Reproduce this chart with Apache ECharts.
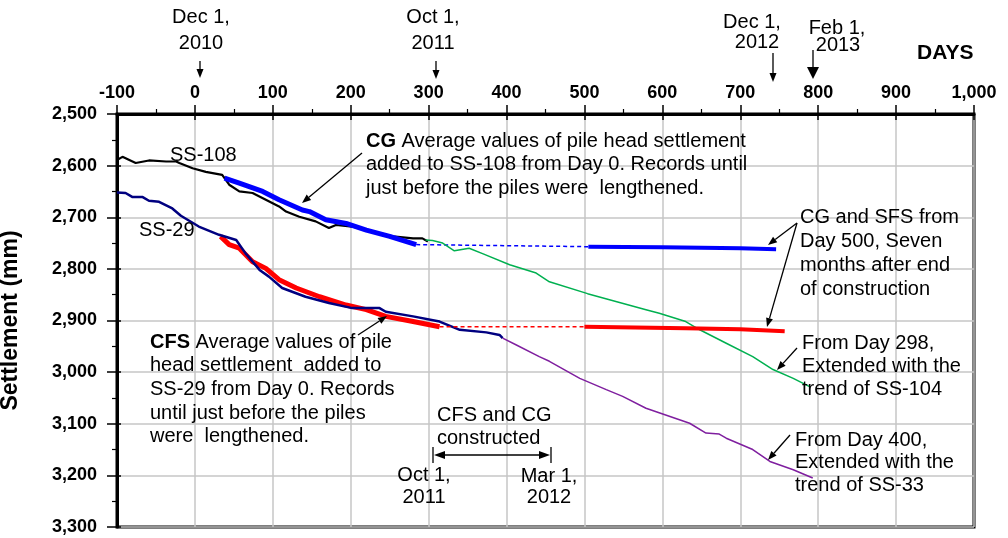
<!DOCTYPE html>
<html>
<head>
<meta charset="utf-8">
<script src="https://cdn.jsdelivr.net/npm/echarts@6/dist/echarts.min.js"></script>
<style>
  html, body { margin: 0; padding: 0; background: #fff; }
  #main { width: 1008px; height: 538px; }
</style>
</head>
<body>
<div id="main"></div>
<script>
// ---- data (days, settlement mm) ----
var ss108Day = [-100, -93, -76, -59, -37, -24, -20, -3, 14, 35, 44, 57, 74, 91, 108, 117, 134, 155, 172, 181, 202, 228, 254, 280, 292, 299];
var ss108Val = [2589, 2583, 2595, 2590, 2592, 2592, 2595, 2605, 2612, 2618, 2637, 2650, 2653, 2666, 2679, 2689, 2699, 2708, 2721, 2715, 2718, 2728, 2737, 2741, 2741, 2747];

var cgDay = [38, 57, 87, 108, 138, 147, 168, 194, 220, 250, 284];
var cgVal = [2624, 2634, 2650, 2666, 2686, 2689, 2705, 2712, 2725, 2737, 2753];
var cgGapDay = [284, 505];
var cgGapVal = [2753, 2757];
var cgLateDay = [505, 600, 700, 746];
var cgLateVal = [2757, 2758, 2760, 2762];

var ss29Day = [-100, -89, -80, -67, -59, -46, -29, -18, 5, 31, 53, 65, 83, 95, 112, 142, 172, 202, 237, 245, 280, 314, 340, 374, 391, 395];
var ss29Val = [2652, 2653, 2661, 2661, 2668, 2670, 2683, 2697, 2718, 2734, 2744, 2770, 2802, 2815, 2837, 2854, 2866, 2876, 2876, 2883, 2892, 2902, 2918, 2923, 2928, 2934];

var cfsDay = [33, 44, 57, 74, 91, 108, 130, 160, 194, 220, 245, 280, 314];
var cfsVal = [2737, 2753, 2760, 2786, 2799, 2821, 2837, 2854, 2870, 2879, 2892, 2902, 2912];
var cfsGapDay = [314, 500];
var cfsGapVal = [2912, 2912];
var cfsLateDay = [500, 630, 700, 757];
var cfsLateVal = [2912, 2915, 2917, 2921];

var ss104Day = [296, 305, 318, 333, 352, 370, 404, 438, 455, 504, 579, 596, 630, 648, 665, 682, 716, 742, 768, 789];
var ss104Val = [2744, 2745, 2750, 2765, 2760, 2771, 2792, 2808, 2825, 2848, 2879, 2886, 2902, 2918, 2931, 2944, 2970, 2995, 3012, 3028];

var ss33Day = [395, 412, 442, 455, 494, 528, 549, 579, 635, 656, 673, 682, 716, 738, 768, 793];
var ss33Val = [2934, 2947, 2970, 2979, 3012, 3034, 3047, 3070, 3099, 3118, 3120, 3128, 3150, 3173, 3189, 3205];

var dayTicks = { min: -100, max: 1000, step: 100 };
var mmTicks = { min: 2500, max: 3300, step: 100 };

function zip(xs, ys) {
    var out = [];
    for (var i = 0; i < xs.length; i++) out.push([xs[i], ys[i]]);
    return out;
}

var FONT = '"Liberation Sans", Arial, sans-serif';
var TXT = '20px ' + FONT;

function line(name, xs, ys, color, width, dashed) {
    return {
        name: name, type: 'line', data: zip(xs, ys),
        showSymbol: false, symbol: 'none', silent: true,
        lineStyle: { color: color, width: width, type: dashed ? [4, 3] : 'solid' }
    };
}

// text helpers for the notes drawn on the chart
function note(x, y, str, align, font) {
    return {
        type: 'text', z: 100, silent: true,
        style: {
            x: x, y: y, text: str, font: font || TXT, fill: '#000',
            textAlign: align || 'left', align: align || 'left',
            textVerticalAlign: 'middle', verticalAlign: 'middle',
            rich: { b: { fontWeight: 'bold', fontSize: 20, fontFamily: FONT } }
        }
    };
}
function block(x, y0, gap, lines, align) {
    return lines.map(function (s, i) { return note(x, y0 + i * gap, s, align); });
}
function arrow(x1, y1, x2, y2, len, half) {
    len = len || 9; half = half || 3.5;
    var dx = x2 - x1, dy = y2 - y1, d = Math.sqrt(dx * dx + dy * dy);
    var ux = dx / d, uy = dy / d;
    var bx = x2 - ux * len, by = y2 - uy * len;
    return [
        { type: 'line', z: 100, silent: true, shape: { x1: x1, y1: y1, x2: bx, y2: by }, style: { stroke: '#000', lineWidth: 1.3 } },
        { type: 'polygon', z: 100, silent: true, shape: { points: [[x2, y2], [bx - uy * half, by + ux * half], [bx + uy * half, by - ux * half]] }, style: { fill: '#000' } }
    ];
}

var graphics = [];
function add(a) { graphics = graphics.concat(a); }

// date markers above the axis
add(block(201, 17, 26, ['Dec 1,', '2010'], 'center'));
add(arrow(200, 61, 200, 78));
add(block(433, 17, 26, ['Oct 1,', '2011'], 'center'));
add(arrow(436, 61, 436, 79));
add(note(752, 22, 'Dec 1,', 'center'));
add(note(757, 42, '2012', 'center'));
add(arrow(773, 53, 773, 82));
add(note(837, 28, 'Feb 1,', 'center'));
add(note(838, 45, '2013', 'center'));
add(arrow(813, 50, 813, 79, 12, 6));
add(note(917, 53, 'DAYS', 'left', 'bold 21px ' + FONT));

// series labels and notes
add(note(170, 155, 'SS-108'));
add(note(139, 230, 'SS-29'));
add(block(366, 141, 23.5, [
    '{b|CG} Average values of pile head settlement',
    'added to SS-108 from Day 0. Records until',
    'just before the piles were  lengthened.'
]));
add(arrow(362, 153, 302, 203));
add(block(800, 217, 24, ['CG and SFS from', 'Day 500, Seven', 'months after end', 'of construction']));
add(arrow(797, 223, 768, 245));
add(arrow(797, 223, 767, 327));
add(block(802, 343, 23, ['From Day 298,', 'Extended with the', 'trend of SS-104']));
add(arrow(797, 348, 777, 370));
add(block(795, 440, 22.5, ['From Day 400,', 'Extended with the', 'trend of SS-33']));
add(arrow(790, 435, 768, 460));
add(block(150, 342, 23.7, [
    '{b|CFS} Average values of pile',
    'head settlement  added to',
    'SS-29 from Day 0. Records',
    'until just before the piles',
    'were  lengthened.'
]));
add(arrow(358, 335, 387, 316));

// construction period bar
add(block(437, 415, 23, ['CFS and CG', 'constructed']));
add(arrow(492, 455, 434, 455, 11, 4));
add(arrow(492, 455, 550, 455, 11, 4));
add([
    { type: 'line', z: 100, silent: true, shape: { x1: 433, y1: 447, x2: 433, y2: 463 }, style: { stroke: '#000', lineWidth: 1.3 } },
    { type: 'line', z: 100, silent: true, shape: { x1: 551, y1: 447, x2: 551, y2: 463 }, style: { stroke: '#000', lineWidth: 1.3 } }
]);
add(block(424, 475, 22, ['Oct 1,', '2011'], 'center'));
add(block(549, 476, 21.5, ['Mar 1,', '2012'], 'center'));

var tickFont = { color: '#000', fontWeight: 'bold', fontSize: 18, fontFamily: FONT };
var gridLine = { show: true, lineStyle: { color: '#c6c6c6', width: 1.5 } };

var option = {
    animation: false,
    grid: {
        left: 117, right: 34, top: 114, bottom: 11,
        outerBoundsMode: 'none', containLabel: false,
        show: true, borderColor: '#000', borderWidth: 3, backgroundColor: 'transparent'
    },
    xAxis: [{
        type: 'value', position: 'top',
        min: dayTicks.min, max: dayTicks.max, interval: dayTicks.step,
        axisLine: { show: true, onZero: false, lineStyle: { color: '#000', width: 3 } },
        axisTick: { show: true, length: 9, lineStyle: { color: '#000', width: 1.5 } },
        minorTick: { show: true, splitNumber: 2, length: 5, lineStyle: { color: '#000', width: 1.2 } },
        axisLabel: Object.assign({ margin: 12, formatter: function (v) { return v.toLocaleString('en-US'); } }, tickFont),
        splitLine: gridLine
    }, {
        type: 'value', position: 'top',
        min: dayTicks.min, max: dayTicks.max, interval: dayTicks.step,
        axisLine: { show: false, onZero: false },
        axisTick: { show: true, inside: true, length: 6, lineStyle: { color: '#000', width: 1.5 } },
        axisLabel: { show: false }, splitLine: { show: false }
    }],
    yAxis: [{
        type: 'value', inverse: true,
        min: mmTicks.min, max: mmTicks.max, interval: mmTicks.step,
        name: 'Settlement (mm)', nameLocation: 'middle', nameGap: 95,
        nameTextStyle: { color: '#000', fontWeight: 'bold', fontSize: 23, fontFamily: FONT },
        axisLine: { show: true, onZero: false, lineStyle: { color: '#000', width: 3 } },
        axisTick: { show: true, length: 10, lineStyle: { color: '#000', width: 1.5 } },
        minorTick: { show: true, splitNumber: 2, length: 5, lineStyle: { color: '#000', width: 1.2 } },
        axisLabel: Object.assign({ margin: 20, formatter: function (v) { return v.toLocaleString('en-US'); } }, tickFont),
        splitLine: gridLine
    }, {
        type: 'value', inverse: true, position: 'left',
        min: mmTicks.min, max: mmTicks.max, interval: mmTicks.step,
        axisLine: { show: false, onZero: false },
        axisTick: { show: true, inside: true, length: 4, lineStyle: { color: '#000', width: 1.5 } },
        axisLabel: { show: false }, splitLine: { show: false }
    }],
    series: [
        line('SS-108', ss108Day, ss108Val, '#000000', 2.2),
        line('CG', cgDay, cgVal, '#0000ff', 5),
        line('CG gap', cgGapDay, cgGapVal, '#0000ff', 1.5, true),
        line('CG later', cgLateDay, cgLateVal, '#0000ff', 4),
        line('SS-104 trend', ss104Day, ss104Val, '#00b050', 1.5),
        line('CFS', cfsDay, cfsVal, '#ff0000', 5),
        line('SS-29', ss29Day, ss29Val, '#000080', 2.5),
        line('CFS gap', cfsGapDay, cfsGapVal, '#ff0000', 1.5, true),
        line('CFS later', cfsLateDay, cfsLateVal, '#ff0000', 4),
        line('SS-33 trend', ss33Day, ss33Val, '#7f1f9f', 1.5)
    ],
    graphic: graphics
};

var chart = echarts.init(document.getElementById('main'), null, { renderer: 'canvas' });
chart.setOption(option);
</script>
</body>
</html>
